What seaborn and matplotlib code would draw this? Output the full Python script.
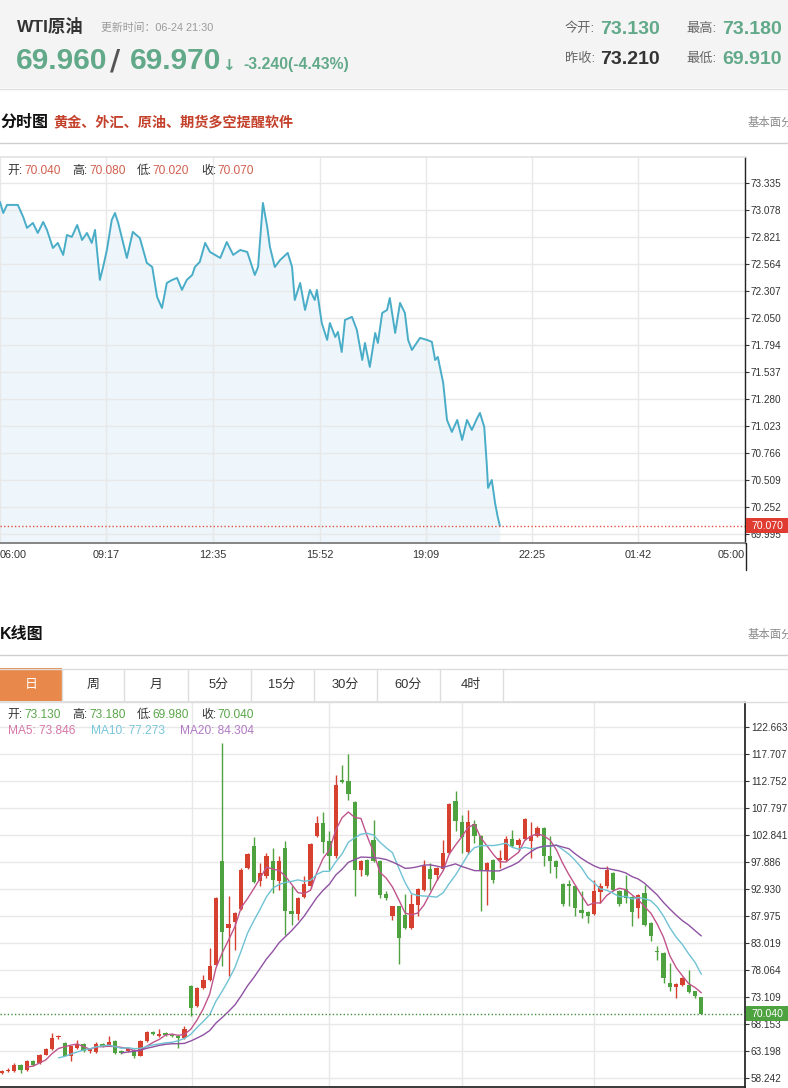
import numpy as np
import pandas as pd
import matplotlib
matplotlib.use("Agg")
import matplotlib.pyplot as plt
import matplotlib.transforms as mtransforms
from matplotlib.patches import Rectangle
from matplotlib.lines import Line2D
import seaborn as sns

# ---------------- data ----------------
instrument = "WTI原油"
update_time = "06-24 21:30"
bid_price = "69.960"
ask_price = "69.970"
change_text = "-3.240(-4.43%)"
today_open = "73.130"
today_high = "73.180"
prev_close = "73.210"
today_low = "69.910"

intraday_title = "分时图"
promo_text = "黄金、外汇、原油、期货多空提醒软件"
side_link = "基本面分析"
ohlc_labels = ["开:", "高:", "低:", "收:"]
intraday_ohlc_values = ["70.040", "70.080", "70.020", "70.070"]

# minutes after 06:00 and price
intraday_minutes = [0, 6, 13, 33, 43, 50, 61, 70, 80, 87, 98, 107, 117, 124, 133, 143, 152, 161, 170, 176,
                    185, 191, 198, 207, 213, 219, 235, 246, 259, 272, 282, 291, 300, 309, 319, 328, 337, 346,
                    356, 361, 370, 380, 389, 408, 420, 432, 445, 458, 472, 478, 487, 495, 500, 509, 519, 533,
                    541, 546, 556, 565, 574, 583, 587, 596, 606, 611, 621, 626, 633, 639, 652, 661, 671, 676,
                    685, 695, 700, 708, 717, 722, 732, 741, 750, 756, 763, 778, 791, 800, 806, 811, 821, 828,
                    837, 847, 856, 865, 874, 884, 889, 897, 902, 904, 911, 917, 922, 926]
intraday_prices = [73.154, 73.049, 73.126, 73.126, 73.011, 72.907, 72.954, 72.859, 72.964, 72.888, 72.716,
                   72.764, 72.650, 72.840, 72.821, 72.935, 72.792, 72.859, 72.764, 72.888, 72.412, 72.535,
                   72.697, 72.983, 73.049, 72.954, 72.621, 72.869, 72.811, 72.574, 72.535, 72.250, 72.145,
                   72.383, 72.412, 72.431, 72.317, 72.412, 72.459, 72.535, 72.583, 72.764, 72.678, 72.621,
                   72.773, 72.650, 72.697, 72.678, 72.459, 72.535, 73.145, 72.916, 72.726, 72.535, 72.602,
                   72.669, 72.535, 72.221, 72.383, 72.126, 72.317, 72.221, 72.317, 72.002, 71.841, 72.002,
                   71.869, 71.917, 71.726, 72.031, 72.060, 71.936, 71.650, 71.812, 71.584, 71.907, 71.812,
                   72.098, 72.126, 72.240, 71.907, 72.193, 72.098, 71.841, 71.745, 71.860, 71.841, 71.822,
                   71.650, 71.679, 71.431, 71.079, 70.965, 71.079, 70.889, 71.079, 70.984, 71.098, 71.146,
                   71.013, 70.632, 70.432, 70.508, 70.289, 70.156, 70.070]
intraday_last = 70.070
intraday_time_labels = ["06:00", "09:17", "12:35", "15:52", "19:09", "22:25", "01:42", "05:00"]
intraday_price_ticks = [73.335, 73.078, 72.821, 72.564, 72.307, 72.050, 71.794, 71.537, 71.280,
                        71.023, 70.766, 70.509, 70.252, 69.995]

kline_title = "K线图"
period_tabs = ["日", "周", "月", "5分", "15分", "30分", "60分", "4时"]
kline_ohlc_values = ["73.130", "73.180", "69.980", "70.040"]
ma_labels = ["MA5", "MA10", "MA20"]
ma_values = ["73.846", "77.273", "84.304"]
ma_windows = [5, 10, 20]

kline_open = [59.16, 59.47, 59.47, 60.69, 59.77, 61.30, 61.00, 62.52, 63.56, 65.71,
              64.67, 62.34, 63.75, 64.54, 63.14, 62.95, 64.54, 64.36, 64.97, 63.14,
              63.14, 63.44, 62.34, 64.97, 66.75, 65.89, 66.50, 66.20, 65.89, 65.58,
              75.06, 71.39, 74.76, 76.29, 79.04, 98.00, 85.77, 86.81, 89.26, 96.78,
              100.88, 94.33, 95.25, 98.13, 94.33, 100.45, 88.83, 88.40, 91.46, 93.42,
              102.59, 105.04, 101.67, 98.92, 112.99, 112.68, 108.89, 96.47, 98.31, 101.98,
              98.00, 92.07, 88.03, 89.74, 88.22, 85.77, 89.93, 92.80, 96.60, 95.56,
              96.60, 99.53, 109.01, 105.16, 99.65, 104.92, 102.59, 96.29, 98.31, 98.31,
              98.31, 102.10, 101.06, 102.10, 101.67, 102.59, 104.12, 99.04, 98.00, 93.90,
              93.90, 93.42, 89.13, 88.64, 88.40, 92.37, 93.42, 95.86, 92.50, 92.99,
              91.40, 89.44, 92.19, 86.69, 81.49, 81.18, 75.68, 74.94, 75.37, 75.37,
              74.15, 73.13]
kline_high = [59.77, 60.00, 61.00, 60.90, 61.50, 61.60, 62.70, 63.75, 66.50, 66.20,
              64.90, 64.20, 65.30, 64.70, 63.80, 64.90, 64.70, 65.89, 65.20, 63.30,
              63.80, 63.60, 65.20, 66.90, 66.90, 67.23, 66.60, 66.40, 66.00, 67.72,
              75.30, 75.00, 77.21, 82.10, 91.50, 119.72, 91.58, 88.70, 96.70, 99.50,
              102.47, 97.70, 99.53, 100.45, 98.92, 101.67, 93.42, 91.50, 95.25, 101.40,
              106.26, 106.99, 103.51, 113.90, 115.74, 117.76, 109.10, 98.20, 98.50, 105.65,
              98.20, 92.50, 89.90, 89.90, 92.00, 92.07, 93.10, 98.31, 97.70, 97.00,
              101.98, 108.70, 110.97, 106.57, 107.48, 105.65, 102.80, 97.90, 98.50, 100.14,
              102.59, 103.69, 102.20, 106.00, 105.16, 104.43, 104.30, 102.59, 98.20, 94.10,
              94.64, 93.60, 92.50, 88.80, 94.64, 94.03, 97.09, 96.10, 92.70, 95.56,
              91.60, 92.10, 93.72, 86.90, 82.40, 81.40, 79.35, 75.70, 76.80, 78.12,
              74.30, 73.18]
kline_low = [59.00, 59.30, 59.30, 59.16, 59.60, 60.50, 60.80, 62.40, 63.40, 65.40,
             62.20, 61.30, 63.60, 63.00, 62.80, 62.80, 64.00, 64.20, 62.60, 62.60,
             63.00, 62.00, 62.20, 64.80, 66.10, 65.70, 66.00, 65.70, 63.75, 65.40,
             69.56, 71.20, 74.60, 76.10, 78.90, 78.73, 76.90, 81.79, 89.00, 96.60,
             94.00, 93.42, 95.00, 92.19, 92.80, 84.55, 86.38, 87.30, 91.30, 93.20,
             102.40, 99.53, 96.47, 98.70, 112.30, 109.32, 91.58, 95.25, 95.40, 97.80,
             91.27, 91.00, 87.30, 79.22, 85.50, 85.50, 87.91, 92.60, 92.80, 94.64,
             96.40, 99.30, 103.51, 99.53, 99.40, 101.37, 88.83, 90.05, 94.03, 96.78,
             98.10, 100.63, 99.84, 101.90, 98.61, 102.40, 97.09, 95.86, 94.95, 89.74,
             89.74, 87.91, 87.60, 86.69, 88.20, 90.36, 93.20, 92.60, 89.74, 90.36,
             86.07, 87.60, 86.07, 83.32, 79.96, 75.68, 74.15, 72.92, 75.19, 73.84,
             72.92, 69.98]
kline_close = [59.59, 59.77, 60.69, 59.77, 61.30, 60.69, 62.52, 63.56, 65.58, 65.89,
               62.34, 64.05, 64.54, 63.14, 63.56, 64.54, 64.18, 64.91, 62.83, 62.83,
               63.56, 62.22, 64.97, 66.75, 66.32, 66.38, 66.20, 65.89, 65.58, 67.23,
               71.09, 74.76, 76.29, 78.86, 91.27, 84.97, 86.50, 88.52, 96.47, 99.35,
               94.15, 95.86, 98.92, 94.64, 98.13, 88.83, 88.40, 91.27, 93.84, 101.18,
               105.04, 101.49, 98.92, 112.07, 112.50, 110.36, 96.47, 98.00, 95.56, 98.00,
               91.89, 91.27, 89.74, 83.93, 85.77, 90.23, 92.93, 97.09, 94.76, 96.78,
               99.53, 108.52, 105.34, 102.47, 105.16, 102.59, 96.29, 97.70, 94.64, 98.61,
               102.10, 100.88, 101.98, 105.77, 102.59, 104.12, 99.04, 98.00, 96.96, 90.23,
               93.54, 89.44, 88.52, 87.91, 92.50, 93.42, 96.35, 92.80, 90.23, 91.27,
               88.64, 91.89, 86.38, 84.24, 81.30, 76.59, 74.94, 75.55, 76.59, 74.02,
               73.21, 70.04]
kline_last = 70.040
kline_price_ticks = [122.663, 117.707, 112.752, 107.797, 102.841, 97.886, 92.930, 87.975,
                     83.019, 78.064, 73.109, 68.153, 63.198, 58.242]
kline_vgrid_idx = [30.2, 51.9, 73.0, 94.0]

# ---------------- style ----------------
sns.set_theme(style="white")
plt.rcParams["font.family"] = ["Liberation Sans", "Noto Sans CJK SC", "DejaVu Sans"]
plt.rcParams["axes.unicode_minus"] = False

W, H = 788, 1088
fig = plt.figure(figsize=(W / 100, H / 100), dpi=100)
fig.patch.set_facecolor("white")


def fx(px):
    return px / W


def fy(py):
    return 1 - py / H


def ftext(x, y, s, size, color, weight="normal", ha="left", va="center", **kw):
    return fig.text(fx(x), fy(y), s, fontsize=size, color=color, fontweight=weight,
                    ha=ha, va=va, **kw)


def hline(y, x0, x1, color, lw=1.0):
    fig.add_artist(Line2D([fx(x0), fx(x1)], [fy(y), fy(y)], color=color, lw=lw,
                          transform=fig.transFigure))


def vline(x, y0, y1, color, lw=1.0):
    fig.add_artist(Line2D([fx(x), fx(x)], [fy(y0), fy(y1)], color=color, lw=lw,
                          transform=fig.transFigure))


HEAD_GREEN = "#62a98a"
K_GREEN = "#4ea23f"
K_RED = "#d6412f"
GRID = "#e8e8e8"
TICK_FS = 7.2

# ---------------- header ----------------
fig.add_artist(Rectangle((0, fy(88)), 1, 88 / H, transform=fig.transFigure,
                         facecolor="#f4f4f4", edgecolor="none", zorder=0))
hline(88.5, 0, W, "#e0e0e0")
ftext(17, 26, instrument, 12.5, "#333333", "bold")
ftext(101, 28, "更新时间：" + update_time, 7.8, "#9a9a9a")
ftext(16, 61, bid_price, 21.5, HEAD_GREEN, "bold")
ftext(110, 61, "/", 20, "#555555", "bold", family=["DejaVu Sans"])
ftext(130, 61, ask_price, 21.5, HEAD_GREEN, "bold")
ftext(222, 65, "↓", 11, HEAD_GREEN, "bold", family=["DejaVu Sans"])
ftext(243, 65, change_text, 11.3, HEAD_GREEN, "bold")

LBL_FS = 9.5
ftext(565, 29, "今开:", LBL_FS, "#666666")
ftext(600, 29, today_open, 14, HEAD_GREEN, "bold")
ftext(686, 29, "最高:", LBL_FS, "#666666")
ftext(722, 29, today_high, 14, HEAD_GREEN, "bold")
ftext(565, 59, "昨收:", LBL_FS, "#666666")
ftext(600, 59, prev_close, 14, "#333333", "bold")
ftext(686, 59, "最低:", LBL_FS, "#666666")
ftext(722, 59, today_low, 14, HEAD_GREEN, "bold")

# ---------------- intraday section ----------------
ftext(0, 122, intraday_title, 11.5, "#111111", "bold")
ftext(53, 122, promo_text, 10.2, "#c4412c", "bold")
ftext(748, 122, side_link, 8.2, "#8a8a8a")
hline(142.5, 0, W, "#cfcfcf")

ax1 = fig.add_axes([0, fy(543), fx(745), (543 - 157) / H])
ax1.set_xlim(0, 1380)
ax1.set_ylim(69.908, 73.582)
base = ax1.get_ylim()[0]
ax1.fill_between(intraday_minutes, intraday_prices, base, color="#eef6fb", lw=0, zorder=1)
sns.lineplot(x=intraday_minutes, y=intraday_prices, ax=ax1, color="#4aadc8", linewidth=1.4,
             estimator=None, sort=False, zorder=3)
ax1.axhline(intraday_last, color="#e0533f", ls=(0, (1, 1.6)), lw=1, zorder=4)


def to_minutes(label):
    h, m = map(int, label.split(":"))
    return (h * 60 + m - 360) % 1440 if label != "05:00" else 1380


xt = [to_minutes(t) for t in intraday_time_labels]
ax1.set_xticks(xt)
ax1.set_xticklabels(intraday_time_labels)
ax1.set_yticks(intraday_price_ticks)
ax1.set_yticklabels([f"{v:.3f}" for v in intraday_price_ticks])
ax1.yaxis.tick_right()
ax1.tick_params(axis="y", direction="out", length=2.9, width=0.8, color="#333333",
                labelsize=TICK_FS, labelcolor="#333333", pad=1.4)
ax1.tick_params(axis="x", direction="out", length=3, width=0.8, color="#999999",
                labelsize=7.8, labelcolor="#333333", pad=2)
xl = ax1.get_xticklabels()
xl[0].set_ha("left")
xl[-1].set_ha("right")
ax1.grid(True, color=GRID, lw=1)
ax1.set_axisbelow("line")
ax1.spines["left"].set_visible(False)
ax1.spines["top"].set_color("#e3e3e3")
ax1.spines["bottom"].set_color("#777777")
ax1.spines["right"].set_color("#222222")
ax1.spines["right"].set_linewidth(1.0)
ax1.set_xlabel("")
ax1.set_ylabel("")
vline(745.5, 543, 570, "#222222")

blend1 = mtransforms.blended_transform_factory(ax1.transAxes, ax1.transData)
box_h1 = 15 / 105.06
ax1.add_patch(Rectangle((1 + 1 / 745, intraday_last - box_h1 / 2), 42 / 745, box_h1,
                        transform=blend1, clip_on=False, facecolor="#df3b30",
                        edgecolor="none", zorder=6))
ax1.text(1 + 22 / 745, intraday_last, f"{intraday_last:.3f}", transform=blend1, color="white",
         fontsize=7.6, ha="center", va="center", zorder=7, clip_on=False)

# OHLC legend for intraday
lab_x = [7, 72, 137, 201]
val_x = [24, 89, 152, 217]
for lx, vx, lab, val in zip(lab_x, val_x, ohlc_labels, intraday_ohlc_values):
    ftext(lx, 171, lab, 8.6, "#333333")
    ftext(vx, 171, val, 8.6, "#d0604f")

# ---------------- K-line section ----------------
ftext(0, 635, kline_title, 11.5, "#111111", "bold")
ftext(748, 634, side_link, 8.2, "#8a8a8a")
hline(654.5, 0, W, "#cfcfcf")

tab_edges = [0, 61.5, 124.5, 187.5, 250.5, 313.5, 376.5, 439.5, 502.5]
fig.add_artist(Rectangle((0, fy(701)), fx(61.5), 33 / H, transform=fig.transFigure,
                         facecolor="#e8894b", edgecolor="none", zorder=1))
hline(668.5, 0, W, "#dddddd")
hline(701.5, 0, W, "#dddddd")
for e in tab_edges[1:]:
    vline(e, 668.5, 701.5, "#dddddd")
for i, tab in enumerate(period_tabs):
    cx = (tab_edges[i] + tab_edges[i + 1]) / 2
    ftext(cx, 685, tab, 9.3, "white" if i == 0 else "#333333", ha="center")

ax2 = fig.add_axes([0, fy(1087), fx(745), (1087 - 702) / H])
idx = np.arange(len(kline_close))
ax2.set_xlim(-0.27, 117.93)
ax2.set_ylim(56.59, 127.25)

df = pd.DataFrame({"idx": idx, "open": kline_open, "high": kline_high,
                   "low": kline_low, "close": kline_close})
up = df["close"] >= df["open"]
colors = np.where(up, K_RED, K_GREEN)
ax2.vlines(df["idx"], df["low"], df["high"], colors=colors, lw=1, zorder=2)
body_bottom = np.minimum(df["open"], df["close"])
body_h = np.maximum((df["close"] - df["open"]).abs(), 0.3)
ax2.bar(df["idx"], body_h, bottom=body_bottom, width=0.68, color=colors, lw=0, zorder=3)

ma_line_colors = ["#c0548c", "#6fc2d4", "#8f52a2"]
ma_text_colors = ["#d677a8", "#78c6da", "#b17ac3"]
for w, c in zip(ma_windows, ma_line_colors):
    ma = df["close"].rolling(w).mean()
    sub = pd.DataFrame({"idx": df["idx"], "ma": ma}).dropna()
    sns.lineplot(data=sub, x="idx", y="ma", ax=ax2, color=c, linewidth=1.0,
                 estimator=None, sort=False, zorder=4, legend=False)

ax2.axhline(kline_last, color="#3f8f3a", ls=(0, (1, 1.6)), lw=1, zorder=5)
ax2.set_yticks(kline_price_ticks)
ax2.set_yticklabels([f"{v:.3f}" for v in kline_price_ticks])
ax2.yaxis.tick_right()
ax2.tick_params(axis="y", direction="out", length=2.9, width=0.8, color="#333333",
                labelsize=TICK_FS, labelcolor="#333333", pad=1.4)
ax2.set_xticks(kline_vgrid_idx)
ax2.tick_params(axis="x", length=0, labelbottom=False)
ax2.grid(True, color=GRID, lw=1)
ax2.set_axisbelow(True)
ax2.spines["left"].set_visible(False)
ax2.spines["top"].set_color("#dddddd")
ax2.spines["bottom"].set_color("#222222")
ax2.spines["right"].set_color("#222222")
ax2.set_xlabel("")
ax2.set_ylabel("")

blend2 = mtransforms.blended_transform_factory(ax2.transAxes, ax2.transData)
box_h2 = 15 / 5.4486
ax2.add_patch(Rectangle((1 + 1 / 745, kline_last - box_h2 / 2), 42 / 745, box_h2,
                        transform=blend2, clip_on=False, facecolor="#4ea23f",
                        edgecolor="none", zorder=6))
ax2.text(1 + 22 / 745, kline_last, f"{kline_last:.3f}", transform=blend2, color="white",
         fontsize=7.6, ha="center", va="center", zorder=7, clip_on=False)

for lx, vx, lab, val in zip(lab_x, val_x, ohlc_labels, kline_ohlc_values):
    ftext(lx, 715, lab, 8.6, "#333333")
    ftext(vx, 715, val, 8.6, "#5aa64a")
ma_x = [8, 91, 180]
for mx, lab, val, c in zip(ma_x, ma_labels, ma_values, ma_text_colors):
    ftext(mx, 731, f"{lab}: {val}", 8.6, c)

fig.savefig("out.png", dpi=100, facecolor="white")
